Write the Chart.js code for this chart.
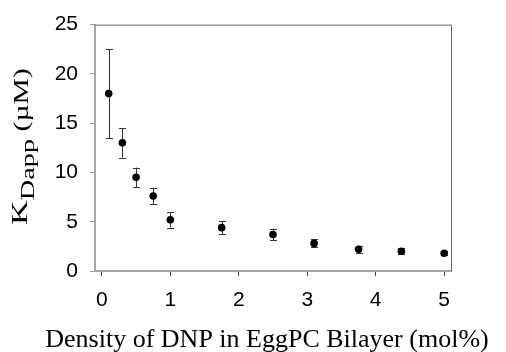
<!DOCTYPE html>
<html>
<head>
<meta charset="utf-8">
<script src="https://cdn.jsdelivr.net/npm/chart.js@4/dist/chart.umd.min.js"></script>
<style>
  html, body { margin: 0; padding: 0; background: #fff; }
  canvas { display: block; }
</style>
</head>
<body>
<canvas id="chart" width="506" height="352"></canvas>
<script>
// DNP density (mol%) vs apparent dissociation constant
const density = [0.1, 0.3, 0.5, 0.75, 1, 1.75, 2.5, 3.1, 3.75, 4.375, 5];
const kdapp = [18, 13, 9.5, 7.6, 5.2, 4.4, 3.7, 2.8, 2.2, 2.0, 1.8];
const kdappErr = [4.5, 1.5, 1.0, 0.85, 0.8, 0.65, 0.6, 0.4, 0.35, 0.3, 0.2];
const xTicks = [0, 1, 2, 3, 4, 5];
const yTicks = [0, 5, 10, 15, 20, 25];
const xTitle = 'Density of DNP in EggPC Bilayer (mol%)';

const errorBars = {
    id: 'errorBars',
    beforeDatasetsDraw(chart) {
        const ctx = chart.ctx;
        const xs = chart.scales.x;
        const ys = chart.scales.y;
        ctx.save();
        ctx.strokeStyle = '#333';
        ctx.lineWidth = 1;
        density.forEach((d, i) => {
            const px = Math.round(xs.getPixelForValue(d)) + 0.5;
            const top = ys.getPixelForValue(kdapp[i] + kdappErr[i]);
            const bot = ys.getPixelForValue(kdapp[i] - kdappErr[i]);
            ctx.beginPath();
            ctx.moveTo(px, top);
            ctx.lineTo(px, bot);
            ctx.moveTo(px - 3.5, Math.round(top) + 0.5);
            ctx.lineTo(px + 3.5, Math.round(top) + 0.5);
            ctx.moveTo(px - 3.5, Math.round(bot) + 0.5);
            ctx.lineTo(px + 3.5, Math.round(bot) + 0.5);
            ctx.stroke();
        });
        ctx.restore();
    }
};

const frameAndTitles = {
    id: 'frameAndTitles',
    afterDraw(chart) {
        const ctx = chart.ctx;
        const area = chart.chartArea;
        ctx.save();
        // top and right frame
        ctx.strokeStyle = '#666';
        ctx.lineWidth = 1;
        ctx.beginPath();
        ctx.moveTo(area.left, area.top + 0.5);
        ctx.lineTo(area.right + 0.5, area.top + 0.5);
        ctx.lineTo(area.right + 0.5, area.bottom);
        ctx.stroke();

        // x title
        ctx.fillStyle = '#000';
        ctx.font = '26px "Liberation Serif"';
        ctx.textAlign = 'center';
        ctx.textBaseline = 'alphabetic';
        ctx.fillText(xTitle, 267, 347);

        // y title, rotated, with subscript
        const parts = [
            { text: 'K', font: '23px "Liberation Serif"', base: 27 },
            { text: 'Dapp', font: '19px "Liberation Serif"', base: 34 },
            { text: ' (\u00b5M)', font: '20px "Liberation Serif"', base: 28 }
        ];
        let total = 0;
        parts.forEach(p => { ctx.font = p.font; p.w = ctx.measureText(p.text).width; total += p.w; });
        const startY = 225, len = 157;
        const s = len / total;
        ctx.translate(0, startY);
        ctx.rotate(-Math.PI / 2);
        ctx.scale(s, 1);
        ctx.textAlign = 'left';
        let u = 0;
        parts.forEach(p => {
            ctx.font = p.font;
            ctx.fillText(p.text, u, p.base);
            u += p.w;
        });
        ctx.restore();
    }
};

const ctx = document.getElementById('chart').getContext('2d');
new Chart(ctx, {
    type: 'scatter',
    data: {
        datasets: [{
            data: density.map((d, i) => ({ x: d, y: kdapp[i] })),
            backgroundColor: '#000',
            borderWidth: 0,
            pointRadius: 3.8
        }]
    },
    options: {
        responsive: false,
        animation: false,
        devicePixelRatio: 1,
        layout: { padding: { top: 21, right: 55, left: 0, bottom: 0 } },
        plugins: { legend: { display: false }, tooltip: { enabled: false } },
        scales: {
            x: {
                type: 'linear',
                min: -0.1,
                max: 5.1,
                afterFit: scale => { scale.height = 81; },
                afterBuildTicks: scale => { scale.ticks = xTicks.map(v => ({ value: v })); },
                grid: { display: true, drawOnChartArea: false, drawTicks: true, tickLength: 5, color: '#444' },
                border: { display: true, color: '#a6a6a6', width: 2 },
                ticks: {
                    font: { family: 'Liberation Sans', size: 21 },
                    color: '#000',
                    padding: 12,
                    maxRotation: 0
                }
            },
            y: {
                min: 0,
                max: 25,
                afterFit: scale => { scale.width = 95; },
                afterBuildTicks: scale => { scale.ticks = yTicks.map(v => ({ value: v })); },
                grid: { display: true, drawOnChartArea: false, drawTicks: true, tickLength: 5, color: '#999' },
                border: { display: true, color: '#a6a6a6', width: 2 },
                ticks: {
                    font: { family: 'Liberation Sans', size: 21 },
                    color: '#000',
                    padding: 12
                }
            }
        }
    },
    plugins: [errorBars, frameAndTitles]
});
</script>
</body>
</html>
